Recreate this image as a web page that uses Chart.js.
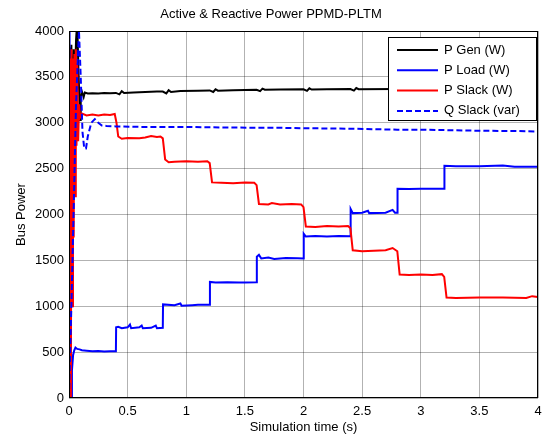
<!DOCTYPE html>
<html>
<head>
<meta charset="utf-8">
<script src="https://cdn.jsdelivr.net/npm/chart.js@4.4.1/dist/chart.umd.min.js"></script>
<style>
  html, body { margin: 0; padding: 0; background: #fff; }
  #wrap { width: 542px; height: 437px; }
</style>
</head>
<body>
<div id="wrap"><canvas id="chart"></canvas></div>
<script>
const TITLE = 'Active & Reactive Power PPMD-PLTM';
const X_LABEL = 'Simulation time (s)';
const Y_LABEL = 'Bus Power';
const SERIES_NAMES = ['P Gen (W)', 'P Load (W)', 'P Slack (W)', 'Q Slack (var)'];

// [time s, value]
const pGen = [
  [0, 0], [0.004, 1500], [0.008, 3820], [0.014, 2600], [0.02, 3850], [0.03, 3100], [0.04, 3800],
  [0.05, 3400], [0.06, 3900], [0.07, 4100], [0.08, 3600], [0.094, 3030], [0.1, 3280], [0.11, 3340],
  [0.125, 3280], [0.135, 3330], [0.16, 3320], [0.2, 3322], [0.25, 3318], [0.3, 3325], [0.35, 3322],
  [0.4, 3325], [0.43, 3310], [0.45, 3345], [0.47, 3325], [0.55, 3330], [0.65, 3335], [0.75, 3340],
  [0.8, 3340], [0.83, 3320], [0.85, 3355], [0.87, 3335], [0.95, 3345], [1.1, 3350], [1.2, 3352],
  [1.23, 3335], [1.25, 3365], [1.27, 3350], [1.4, 3355], [1.6, 3360], [1.63, 3345], [1.65, 3372],
  [1.67, 3360], [1.8, 3362], [2.0, 3365], [2.03, 3348], [2.05, 3375], [2.07, 3362], [2.2, 3365],
  [2.4, 3367], [2.43, 3350], [2.45, 3378], [2.47, 3365], [2.8, 3368], [3.2, 3368], [3.6, 3370], [4, 3370]
];

const pLoad = [
  [0, 0], [0.003, 4000], [0.006, 4000], [0.009, 0], [0.02, 0], [0.025, 300], [0.035, 470],
  [0.045, 520], [0.055, 550], [0.07, 535], [0.09, 530], [0.11, 520], [0.15, 515], [0.2, 510],
  [0.25, 512], [0.3, 508], [0.35, 510], [0.4, 510], [0.402, 770], [0.42, 775], [0.45, 760],
  [0.5, 770], [0.52, 800], [0.53, 760], [0.6, 770], [0.62, 790], [0.63, 760], [0.7, 765],
  [0.74, 790], [0.75, 760], [0.8, 765], [0.802, 1020], [0.9, 1012], [0.95, 1030], [0.96, 1005],
  [1.05, 1012], [1.1, 1015], [1.2, 1015], [1.202, 1265], [1.25, 1260], [1.35, 1262], [1.45, 1258],
  [1.5, 1260], [1.6, 1262], [1.602, 1540], [1.62, 1560], [1.64, 1520], [1.7, 1530], [1.75, 1515],
  [1.85, 1525], [1.95, 1522], [2.0, 1520], [2.002, 1790], [2.02, 1760], [2.1, 1765], [2.2, 1760],
  [2.3, 1765], [2.4, 1762], [2.402, 2060], [2.42, 2015], [2.5, 2020], [2.55, 2040], [2.56, 2015],
  [2.7, 2020], [2.76, 2050], [2.78, 2020], [2.8, 2020], [2.802, 2280], [2.9, 2278], [3.0, 2282],
  [3.1, 2280], [3.2, 2280], [3.202, 2530], [3.3, 2525], [3.5, 2525], [3.7, 2535], [3.8, 2520], [4, 2520]
];

const pSlack = [
  [0, 0], [0.004, 3700], [0.008, 200], [0.012, 3700], [0.016, 0], [0.022, 3800], [0.028, 1000],
  [0.034, 3700], [0.04, 1750], [0.046, 3750], [0.052, 2200], [0.058, 3800], [0.064, 2750],
  [0.07, 3650], [0.078, 2800], [0.086, 3200], [0.095, 3060], [0.11, 3100], [0.15, 3080],
  [0.2, 3090], [0.25, 3080], [0.3, 3090], [0.35, 3085], [0.39, 3095], [0.405, 3000], [0.42, 2850],
  [0.45, 2825], [0.5, 2835], [0.6, 2830], [0.65, 2840], [0.7, 2855], [0.75, 2845], [0.78, 2850],
  [0.8, 2830], [0.82, 2600], [0.85, 2570], [0.9, 2575], [1.0, 2580], [1.1, 2575], [1.18, 2580],
  [1.2, 2560], [1.22, 2350], [1.3, 2345], [1.4, 2340], [1.5, 2350], [1.58, 2345], [1.6, 2320],
  [1.62, 2115], [1.7, 2110], [1.73, 2125], [1.8, 2110], [1.9, 2115], [1.98, 2110], [2.0, 2080],
  [2.02, 1870], [2.1, 1865], [2.2, 1875], [2.3, 1870], [2.38, 1875], [2.4, 1850], [2.42, 1610],
  [2.5, 1600], [2.6, 1605], [2.7, 1610], [2.76, 1635], [2.8, 1600], [2.82, 1345], [2.9, 1340],
  [3.0, 1345], [3.1, 1340], [3.18, 1350], [3.2, 1320], [3.22, 1095], [3.3, 1090], [3.5, 1095],
  [3.7, 1095], [3.9, 1090], [3.95, 1110], [4, 1100]
];

const qSlack = [
  [0, 0], [0.03, 1500], [0.06, 3200], [0.085, 4000], [0.1, 3500], [0.115, 2900], [0.13, 2720],
  [0.145, 2720], [0.16, 2850], [0.19, 3000], [0.22, 3040], [0.25, 3000], [0.28, 2970], [0.32, 2965],
  [0.4, 2960], [0.6, 2955], [0.8, 2955], [1.0, 2955], [1.2, 2950], [1.4, 2948], [1.6, 2945],
  [1.8, 2945], [2.0, 2940], [2.2, 2938], [2.4, 2935], [2.6, 2930], [2.8, 2925], [3.0, 2925],
  [3.2, 2920], [3.4, 2915], [3.6, 2912], [3.8, 2910], [4, 2905]
];

const FONT = 'Liberation Sans, Arial, sans-serif';
const COLORS = ['#000000', '#0000ff', '#ff0000', '#0000ff'];
const DASHES = [[], [], [], [6, 3]];

const toXY = arr => arr.map(([x, y]) => ({ x, y }));

// black frame round the plot area + legend box drawn on top of the lines
const framePlugin = {
  id: 'frame',
  afterDatasetsDraw(chart) {
    const { ctx, chartArea: a } = chart;
    ctx.save();
    ctx.strokeStyle = '#000';
    ctx.lineWidth = 1;
    ctx.strokeRect(a.left + 0.5, a.top + 0.5, a.right - a.left - 1, a.bottom - a.top - 1);

    // legend
    const bx = 388, by = 37, bw = 149, bh = 84;
    ctx.fillStyle = '#fff';
    ctx.fillRect(bx, by, bw, bh);
    ctx.strokeRect(bx + 0.5, by + 0.5, bw - 1, bh - 1);
    ctx.font = '13px ' + FONT;
    ctx.textBaseline = 'middle';
    ctx.textAlign = 'left';
    SERIES_NAMES.forEach((name, i) => {
      const y = by + 13 + i * 20.3;
      ctx.beginPath();
      ctx.setLineDash(DASHES[i]);
      ctx.strokeStyle = COLORS[i];
      ctx.lineWidth = 2;
      ctx.moveTo(397, y);
      ctx.lineTo(438, y);
      ctx.stroke();
      ctx.setLineDash([]);
      ctx.fillStyle = '#000';
      ctx.fillText(name, 444, y);
    });
    ctx.restore();
  }
};

const allSeries = [pGen, pLoad, pSlack, qSlack];

new Chart(document.getElementById('chart'), {
  type: 'line',
  plugins: [framePlugin],
  data: {
    datasets: allSeries.map((s, i) => ({
      label: SERIES_NAMES[i],
      data: toXY(s),
      borderColor: COLORS[i],
      borderWidth: 2,
      borderDash: DASHES[i],
      pointRadius: 0,
      tension: 0,
      fill: false,
      order: 4 - i
    }))
  },
  options: {
    responsive: true,
    maintainAspectRatio: false,
    animation: false,
    layout: { padding: { left: 0, right: 0, top: 0, bottom: 0 } },
    plugins: {
      legend: { display: false },
      tooltip: { enabled: false },
      title: {
        display: true,
        text: TITLE,
        color: '#000',
        font: { family: FONT, size: 13, weight: 'normal' },
        padding: { top: 7, bottom: 8.4 }
      }
    },
    scales: {
      x: {
        type: 'linear',
        min: 0,
        max: 4,
        afterFit: s => { s.height = 39; s.paddingLeft = 0; s.paddingRight = 4; },
        grid: { color: 'rgba(0,0,0,0.3)', drawTicks: false },
        border: { display: false },
        ticks: {
          stepSize: 0.5,
          color: '#000',
          padding: 6,
          font: { family: FONT, size: 13 },
          maxRotation: 0,
          callback: v => String(v)
        },
        title: {
          display: true,
          text: X_LABEL,
          color: '#000',
          font: { family: FONT, size: 13 },
          padding: { top: 0, bottom: 2 }
        }
      },
      y: {
        min: 0,
        max: 4000,
        afterFit: s => { s.width = 69; },
        grid: { color: 'rgba(0,0,0,0.3)', drawTicks: false },
        border: { display: false },
        ticks: {
          stepSize: 500,
          color: '#000',
          padding: 5,
          font: { family: FONT, size: 13 },
          callback: v => String(v)
        },
        title: {
          display: true,
          text: Y_LABEL,
          color: '#000',
          font: { family: FONT, size: 13 },
          padding: { top: 14, bottom: 0 }
        }
      }
    }
  }
});
</script>
</body>
</html>
